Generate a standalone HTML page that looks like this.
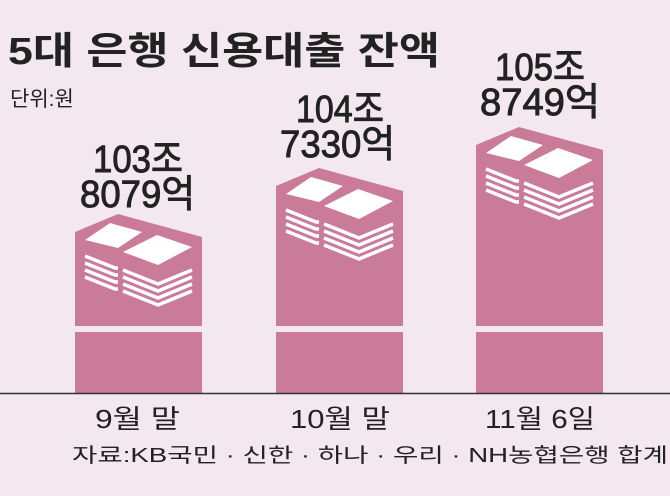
<!DOCTYPE html>
<html><head><meta charset="utf-8"><style>
body{margin:0;background:#f3e8ee;}
svg{display:block;font-family:"Liberation Sans","Noto Sans CJK KR",sans-serif;}
</style></head><body>
<svg width="670" height="496" viewBox="0 0 670 496">
<rect width="670" height="496" fill="#f3e8ee"/>
<text x="8" y="64" font-size="38" font-weight="bold" fill="#222" textLength="432" lengthAdjust="spacingAndGlyphs">5대 은행 신용대출 잔액</text>
<text x="10" y="106" font-size="21" fill="#222">단위:원</text>
<defs>
<g id="stk">
<g fill="none" stroke="#fff" stroke-width="3.5">
<polyline points="10,42 40,54 43,54"/><polyline points="10,49 40,61 43,61"/><polyline points="10,56 40,68 43,68"/><polyline points="10,63 40,75 43,75"/>
<polyline points="48,56 83,70 117,56"/><polyline points="48,63 83,77 117,63"/><polyline points="48,70 83,84 117,70"/><polyline points="48,77 83,91 117,77"/>
</g>
<polygon points="10,26 35,9 67,18 43,34" fill="#fff"/>
<polygon points="48,38 82,21 117,33 83,51" fill="#fff"/>
</g>
</defs>
<polygon points="75,232 118,214 202,237 202,393 75,393" fill="#c97b98"/>
<polygon points="276,186 319,168 403,191 403,393 276,393" fill="#c97b98"/>
<polygon points="476,145 519,127 603,150 603,393 476,393" fill="#c97b98"/>
<use href="#stk" x="75" y="214"/>
<use href="#stk" x="276" y="168"/>
<use href="#stk" x="476" y="127"/>
<rect x="70" y="326" width="540" height="6" fill="#f3e8ee"/>
<line x1="0" y1="393.5" x2="670" y2="393.5" stroke="#333" stroke-width="1.5"/>
<g font-size="38" fill="#222" stroke="#222" stroke-width="0.9">
<text x="93" y="172" textLength="90" lengthAdjust="spacingAndGlyphs">103조</text>
<text x="80" y="207" textLength="115" lengthAdjust="spacingAndGlyphs">8079억</text>
<text x="296" y="122" textLength="88" lengthAdjust="spacingAndGlyphs">104조</text>
<text x="280" y="157" textLength="115" lengthAdjust="spacingAndGlyphs">7330억</text>
<text x="495" y="80" textLength="90" lengthAdjust="spacingAndGlyphs">105조</text>
<text x="480" y="115" textLength="120" lengthAdjust="spacingAndGlyphs">8749억</text>
</g>
<g font-size="26" fill="#222">
<text x="95" y="428" textLength="85" lengthAdjust="spacingAndGlyphs">9월 말</text>
<text x="290" y="428" textLength="100" lengthAdjust="spacingAndGlyphs">10월 말</text>
<text x="485" y="428" textLength="110" lengthAdjust="spacingAndGlyphs">11월 6일</text>
</g>
<text x="72" y="462" font-size="20" fill="#222" textLength="596" lengthAdjust="spacingAndGlyphs">자료:KB국민 · 신한 · 하나 · 우리 · NH농협은행 합계</text>
</svg>
</body></html>
